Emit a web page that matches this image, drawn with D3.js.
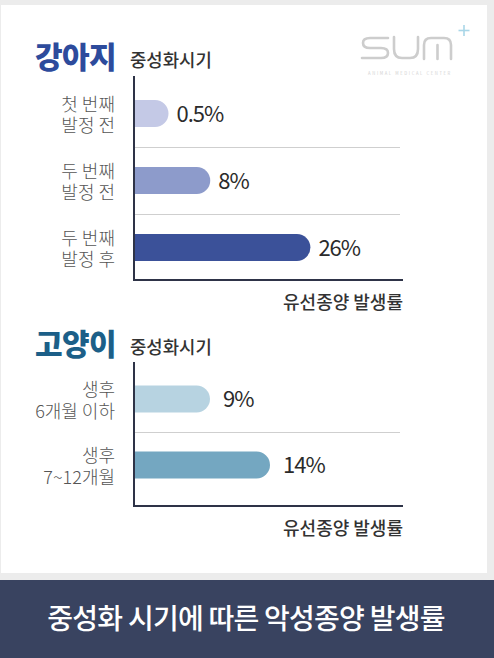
<!DOCTYPE html>
<html>
<head>
<meta charset="utf-8">
<script src="https://cdn.jsdelivr.net/npm/d3@7"></script>
<style>
  html, body { margin: 0; padding: 0; background: #ececec; }
  svg { display: block; }
  text { font-family: "Noto Sans CJK KR", "Noto Sans", sans-serif; }
</style>
</head>
<body>
<svg id="chart" width="494" height="658"></svg>
<script>
// ── Data ──────────────────────────────────
const dogCategories = [["첫 번째", "발정 전"], ["두 번째", "발정 전"], ["두 번째", "발정 후"]];
const dogValues     = [0.5, 8, 26];
const dogColors     = ["#c4c9e6", "#8d9bcb", "#3b5199"];

const catCategories = [["생후", "6개월 이하"], ["생후", "7~12개월"]];
const catValues     = [9, 14];
const catColors     = ["#b7d3e1", "#74a7c1"];

const axisTitle   = "유선종양 발생률";
const groupTitle  = "중성화시기";
const footerTitle = "중성화 시기에 따른 악성종양 발생률";

const svg = d3.select("#chart");

// card + footer band
svg.append("rect").attr("x", 1).attr("y", 5).attr("width", 486).attr("height", 568).attr("fill", "#fff");
svg.append("rect").attr("x", 0).attr("y", 580).attr("width", 494).attr("height", 78).attr("fill", "#394360");
svg.append("text")
  .attr("x", 246).attr("y", 629)
  .attr("text-anchor", "middle")
  .attr("fill", "#fff")
  .attr("font-size", 28).attr("font-weight", 500)
  .attr("letter-spacing", -0.75)
  .text(footerTitle);

// ── Logo (rough outline) ──────────────────
const logo = svg.append("g").attr("fill", "none").attr("stroke", "#cdcdcd").attr("stroke-width", 2.6)
  .attr("stroke-linecap", "round");
logo.append("path").attr("d", "M388,38 H370 Q363,38 363,43 Q363,48 370,48 H381 Q388,48 388,53 Q388,58 381,58 H362");
logo.append("path").attr("d", "M394,37 V49 Q394,58 402,58 H410 Q418,58 418,49 V37");
logo.append("path").attr("d", "M424,59 V45 Q424,38 431,38 H444 Q451,38 451,45 V59 M437.5,59 V45");
svg.append("g").attr("stroke", "#a9d6e8").attr("stroke-width", 1.6)
  .call(g => {
    g.append("line").attr("x1", 464).attr("x2", 464).attr("y1", 25).attr("y2", 36);
    g.append("line").attr("x1", 458.5).attr("x2", 469.5).attr("y1", 30.5).attr("y2", 30.5);
  });
svg.append("text")
  .attr("x", 410).attr("y", 75)
  .attr("text-anchor", "middle")
  .attr("font-family", "DejaVu Sans")
  .attr("font-size", 4.2).attr("letter-spacing", 1.6)
  .attr("fill", "#d2d2d2")
  .text("ANIMAL MEDICAL CENTER");

// ── Panel drawing ─────────────────────────
function rightRoundBar(x0, x1, yc, h) {
  const r = h / 2;
  return `M${x0},${yc - r} H${x1 - r} A${r},${r} 0 0 1 ${x1 - r},${yc + r} H${x0} Z`;
}

function drawPanel(opt) {
  const g = svg.append("g");
  const x = d3.scaleLinear().domain(opt.domain).range([134, 400]);
  const y = d3.scaleBand().domain(opt.categories.map((d, i) => i)).range(opt.bandRange);
  const barH = 27;

  // titles
  g.append("text").attr("x", 35).attr("y", opt.titleY)
    .attr("fill", opt.titleColor).attr("font-size", 30).attr("font-weight", 900)
    .attr("letter-spacing", -0.6)
    .text(opt.title);
  g.append("text").attr("x", 130).attr("y", opt.titleY - 1)
    .attr("fill", "#333").attr("font-size", 17.8).attr("font-weight", 500)
    .text(groupTitle);

  // separators between bands
  opt.categories.slice(1).forEach((d, i) => {
    const yy = Math.round(y(i + 1)) + 0.5;
    g.append("line").attr("x1", 134).attr("x2", 400).attr("y1", yy).attr("y2", yy)
      .attr("stroke", "#cfcfcf").attr("stroke-width", 1);
  });

  // bars
  g.selectAll("path.bar").data(opt.values).join("path")
    .attr("class", "bar")
    .attr("d", (v, i) => rightRoundBar(x.range()[0], x(v), y(i) + y.bandwidth() / 2, barH))
    .attr("fill", (v, i) => opt.colors[i]);

  // value labels
  g.selectAll("text.val").data(opt.values).join("text")
    .attr("class", "val")
    .attr("x", v => x(v) + opt.labelGap)
    .attr("y", (v, i) => y(i) + y.bandwidth() / 2 + 8)
    .attr("font-family", "Lato, Inter, sans-serif")
    .attr("font-size", 22).attr("fill", "#2b2b2b")
    .attr("letter-spacing", -1)
    .text(v => v + "%");

  // category labels, two lines each
  opt.categories.forEach((lines, i) => {
    const yc = y(i) + y.bandwidth() / 2;
    lines.forEach((s, j) => {
      g.append("text").attr("text-anchor", "end")
        .attr("x", 115).attr("y", yc - 3 + j * 21.5)
        .attr("fill", "#555").attr("font-size", 18).attr("font-weight", 300)
        .text(s);
    });
  });

  // axes
  const axisY = opt.axisY;
  g.append("path")
    .attr("d", `M134,${opt.axisTop} V${axisY} H403`)
    .attr("fill", "none").attr("stroke", "#2e3347").attr("stroke-width", 2);

  g.append("text").attr("x", 403).attr("y", axisY + 29)
    .attr("text-anchor", "end").attr("fill", "#333")
    .attr("font-size", 18).attr("font-weight", 500)
    .text(axisTitle);
}

drawPanel({
  title: "강아지", titleColor: "#2d4b9c", titleY: 68,
  categories: dogCategories, values: dogValues, colors: dogColors,
  domain: [-5.7, 42.1], bandRange: [80, 281], axisTop: 76, axisY: 280, labelGap: 8
});

drawPanel({
  title: "고양이", titleColor: "#1c5f88", titleY: 355,
  categories: catCategories, values: catValues, colors: catColors,
  domain: [2.67, 24.83], bandRange: [366, 498], axisTop: 362, axisY: 506, labelGap: 13
});
</script>
</body>
</html>
